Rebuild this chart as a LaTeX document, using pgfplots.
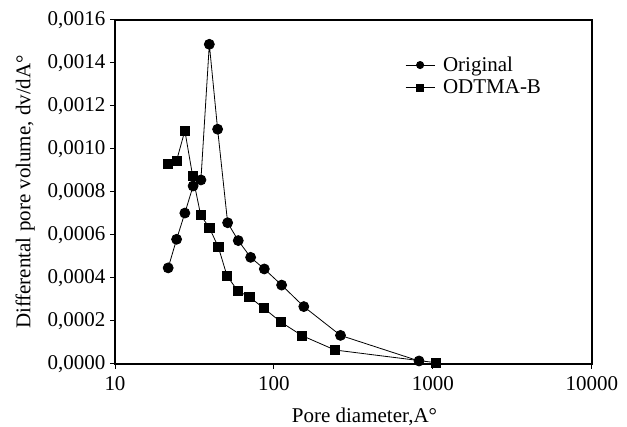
\documentclass[border=0pt]{standalone}
\usepackage{fontspec}
\setmainfont{Liberation Serif}
\usepackage{pgfplots}
\pgfplotsset{compat=1.18}

\newcommand{\chartfont}{\fontsize{21}{25}\selectfont}

\begin{document}
\begin{tikzpicture}[font=\chartfont]
\useasboundingbox (-115pt,-63pt) rectangle (512pt,364pt);
\begin{axis}[
  scale only axis,
  width=477pt, height=344pt,
  at={(0pt,0pt)}, anchor=south west,
  xmode=log,
  xmin=10, xmax=10000,
  ymin=0, ymax=0.0016,
  xtick={10,100,1000,10000},
  xticklabels={10,100,1000,10000},
  xminorticks=false,
  ytick={0,0.0002,0.0004,0.0006,0.0008,0.0010,0.0012,0.0014,0.0016},
  scaled y ticks=false,
  yticklabel={\pgfmathprintnumber[fixed, fixed zerofill, precision=4, use comma, assume math mode=true]{\tick}},
  tick label style={font=\chartfont},
  yticklabel style={xshift=-1pt},
  xticklabel style={yshift=-4pt},
  xtick pos=bottom, ytick pos=left,
  tick align=outside,
  major tick length=5pt,
  axis line style={line width=1.1pt},
  every tick/.style={black, line width=1pt},
  xlabel={Pore diameter,A°},
  ylabel={Differental pore volume, dv/dA°},
  label style={font=\chartfont},
  xlabel style={yshift=-10pt, xshift=11pt},
  ylabel style={yshift=6pt},
  legend style={draw=none, fill=none, at={(0.608,0.893)}, anchor=north west,
    font=\chartfont, row sep=7pt, inner sep=0pt,
    nodes={inner xsep=0pt, inner ysep=0pt},
    /tikz/every odd column/.append style={column sep=8pt}},
  legend cell align=left,
  legend image code/.code={\draw[mark repeat=2, mark phase=2, #1, mark size=3.6pt]
    plot coordinates {(0pt,0pt) (14.5pt,0pt) (29pt,0pt)};},
]
\addplot[black, line width=0.8pt, mark=*, mark size=5pt, mark options={fill=black}] coordinates {
(21.6,0.000447) (24.4,0.000580) (27.5,0.000702) (31.0,0.000828) (34.7,0.000856)
(39.2,0.001487) (44.2,0.001092) (51.1,0.000657) (59.6,0.000574) (71.3,0.000496)
(86.9,0.000442) (111.7,0.000367) (154,0.000267) (262,0.000133) (817,0.000014)};
\addlegendentry{Original}
\addplot[black, line width=0.8pt, mark=square*, mark size=4.6pt, mark options={fill=black}] coordinates {
(21.6,0.000929) (24.4,0.000946) (27.5,0.001085) (30.8,0.000874) (34.6,0.000692)
(39.2,0.000634) (44.7,0.000543) (50.6,0.000411) (59.1,0.000340) (70.0,0.000312)
(86.1,0.000260) (111,0.000194) (150,0.000132) (242,0.000065) (1045,0.000006)};
\addlegendentry{ODTMA-B}
\end{axis}
\end{tikzpicture}
\end{document}
